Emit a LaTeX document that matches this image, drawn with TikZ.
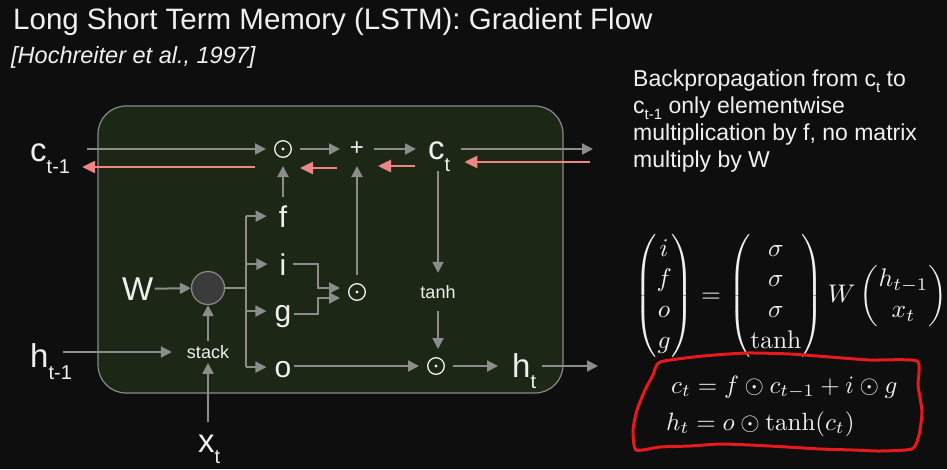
\documentclass[tikz,border=0pt]{standalone}
\usepackage{amsmath}
\usepackage{graphicx}
\usepackage{fontspec}
\newfontfamily\arial{Liberation Sans}
\usetikzlibrary{arrows.meta,calc}
\definecolor{bg}{HTML}{0E0E0E}
\definecolor{boxfill}{HTML}{1C2716}
\definecolor{boxline}{HTML}{8A8A8A}
\definecolor{lgray}{HTML}{8C8C8C}
\definecolor{pinkc}{HTML}{F08585}
\definecolor{fg}{HTML}{F0F0F0}
\definecolor{cgray}{HTML}{3B3B3B}
\definecolor{redline}{HTML}{E8191C}
\newcommand{\mysub}[3]{\raisebox{-#2}{\fontsize{#3}{#3}\selectfont #1}}
\begin{document}
\begin{tikzpicture}[x=1pt,y=-1pt,
  lbl/.style={text=fg, font=\arial\fontsize{33}{33}\selectfont, inner sep=0pt},
  gate/.style={text=fg, font=\arial\fontsize{30}{30}\selectfont, inner sep=0pt},
  small/.style={text=fg, font=\arial\fontsize{18}{18}\selectfont, inner sep=0pt},
  op/.style={circle, minimum size=30pt, inner sep=0pt, outer sep=2pt},
  odot/.style={op, path picture={
      \draw[fg, line width=1.3pt] (path picture bounding box.center) circle (8.3pt);
      \fill[fg] (path picture bounding box.center) circle (1.6pt);}},
  gline/.style={draw=lgray, line width=2pt},
  garrow/.style={gline, -{Triangle[length=11pt,width=11pt]}},
  parrow/.style={draw=pinkc, line width=2.5pt, -{Triangle[length=13pt,width=12pt]}},
  mathtxt/.style={text=fg, inner sep=0pt, font=\fontsize{10}{12}\selectfont}]
\useasboundingbox (0,0) rectangle (947,469);
\fill[bg] (0,0) rectangle (947,469);

% title
\node[anchor=base west, text=fg, inner sep=0pt, font=\arial\fontsize{29.5}{29.5}\selectfont] (title) at (13,29) {Long Short Term Memory (LSTM): Gradient Flow};
\node[anchor=base west, text=fg, inner sep=0pt, font=\arial\itshape\fontsize{23.5}{23.5}\selectfont] (cite) at (11,63) {[Hochreiter et al., 1997]};

% cell box
\node[draw=boxline, fill=boxfill, line width=1.2pt, rounded corners=28pt, minimum width=465pt, minimum height=287pt, inner sep=0pt] (cell) at (330.5,249.5) {};

% nodes
\node[lbl, anchor=base west] (ctm1) at (30,161) {c\mysub{t-1}{12pt}{20}};
\node[odot] (m1) at (283,149) {};
\node[op, text=fg, font=\arial\fontsize{24}{24}\selectfont] (plus) at (357,149) {+};
\node[lbl, anchor=base west] (ct) at (428,159) {c\mysub{t}{12pt}{20}};
\coordinate (cout) at (593,149);

\node[gate, anchor=base] (f) at (283,227) {f};
\node[gate, anchor=base] (i) at (283,275) {i};
\node[gate, anchor=base] (g) at (283,321) {g};
\node[gate, anchor=base] (o) at (283,377) {o};

\node[odot] (mid) at (357,292) {};
\node[small, minimum height=38pt] (tanhn) at (438,292) {tanh};
\node[odot] (m2) at (436,366) {};
\node[lbl, anchor=base west] (ht) at (512,377) {h\mysub{t}{11pt}{20}};
\coordinate (hout) at (598,366);

\node[lbl, anchor=base west] (W) at (122,300) {W};
\node[circle, draw=boxline, fill=cgray, line width=1.2pt, minimum size=33pt, inner sep=0pt] (circ) at (208,288) {};
\node[small, inner sep=4pt] (stack) at (208,352) {stack};
\node[lbl, anchor=base west] (htm1) at (30,367) {h\mysub{t-1}{12pt}{20}};
\node[lbl, anchor=base west] (xt) at (198,452) {x\mysub{t}{11pt}{20}};

% cell state path
\draw[garrow] ($(m1 -| ctm1.east)+(17,0)$) -- (m1);
\draw[garrow] (m1) -- (plus);
\draw[garrow] (plus) -- ($(plus -| ct.west)+(-12,0)$);
\draw[garrow] ($(plus -| ct.east)+(11,0)$) -- (cout);
\draw[garrow] ($(f.north)+(0,-8)$) -- (m1);
\draw[garrow] (mid) -- (plus);

% gradient flow (pink)
\draw[parrow] ($(m1)+(-28,18)$) -- ($(ctm1.east |- m1)+(12,18)$);
\draw[parrow] ($(plus)+(-20,19)$) -- ($(m1)+(17,19)$);
\draw[parrow] ($(plus -| ct.west)+(-13,17)$) -- ($(plus)+(21,17)$);
\draw[parrow] ($(cout)+(-3,13)$) -- ($(plus -| ct.east)+(14,13)$);

% tanh / output path
\draw[garrow] (ct.south -| tanhn.north) -- (tanhn.north);
\draw[garrow] (tanhn.south) -- (tanhn.south |- m2.north);
\draw[garrow] ($(m2 -| o.east)+(2,0)$) -- (m2);
\draw[garrow] (m2) -- ($(m2 -| ht.west)+(-14,0)$);
\draw[garrow] ($(m2 -| ht.east)+(6,0)$) -- (hout);

% inputs
\draw[garrow] ($(W.east)+(1,0)$) -- (circ);
\draw[garrow] (stack.north) -- (circ);
\draw[garrow] ($(htm1.east |- stack.west)+(-9,0)$) -- ($(stack.west)+(-11,0)$);
\draw[garrow] ($(stack |- xt.north)+(0,-12)$) -- (stack.south);

% branching to gates
\coordinate (br) at (246,288);
\coordinate (bf) at (br |- f.west);
\coordinate (bi) at (br |- i.west);
\coordinate (bg) at ($(br |- g.west)+(0,-5)$);
\coordinate (bo) at ($(br |- o.west)+(0,-2)$);
\draw[gline] (circ) -- (br);
\draw[gline] (bf) -- (bo);
\draw[garrow] (bf) -- ($(f.west)+(-12,0)$);
\draw[garrow] (bi) -- ($(i.west)+(-12,0)$);
\draw[garrow] (bg) -- ($(g.west)+(-8,-5)$);
\draw[garrow] (bo) -- ($(o.west)+(-8,-2)$);

% i, g -> mid
\draw[garrow] ($(i.east)+(6,0)$) -| ($(mid.west)+(-22,-4)$) -- ($(mid.west)+(0,-4)$);
\draw[garrow] ($(g.east)+(2,-2)$) -| ($(mid.west)+(-22,6)$) -- ($(mid.west)+(0,6)$);

% right text
\node[anchor=north west, align=left, text=fg, inner sep=0pt, font=\arial\fontsize{23}{27}\selectfont] (note) at (633,70)
  {Backpropagation from c\mysub{t}{6pt}{15} to\\
   c\mysub{t-1}{6pt}{15} only elementwise\\
   multiplication by f, no matrix\\
   multiply by W};

% equations
\node[mathtxt, anchor=west] (eq) at (634,296)
  {\scalebox{2.55}{$\begin{pmatrix} i\\ f\\ o\\ g\end{pmatrix} = \begin{pmatrix}\sigma\\ \sigma\\ \sigma\\ \tanh\end{pmatrix} W \begin{pmatrix} h_{t-1}\\ x_t\end{pmatrix}$}};
\node[mathtxt, anchor=base west] (eqc) at (671,393) {\scalebox{2.5}{$c_t = f\odot c_{t-1} + i\odot g$}};
\node[mathtxt, anchor=base west] (eqh) at (666,430) {\scalebox{2.5}{$h_t = o\odot \tanh(c_t)$}};

% red hand-drawn outline
\draw[redline, line width=3pt, line join=round] plot[smooth cycle, tension=0.35] coordinates {
  (660,362) (703,356) (747,353) (790,354) (830,357) (870,360) (917,361)
  (918,385) (922,412) (919,435) (912,449)
  (880,451) (853,450) (820,449) (787,447) (750,445) (720,444) (690,446) (660,447) (636,450)
  (633,430) (637,410) (645,390) (653,375)};
\end{tikzpicture}
\end{document}
